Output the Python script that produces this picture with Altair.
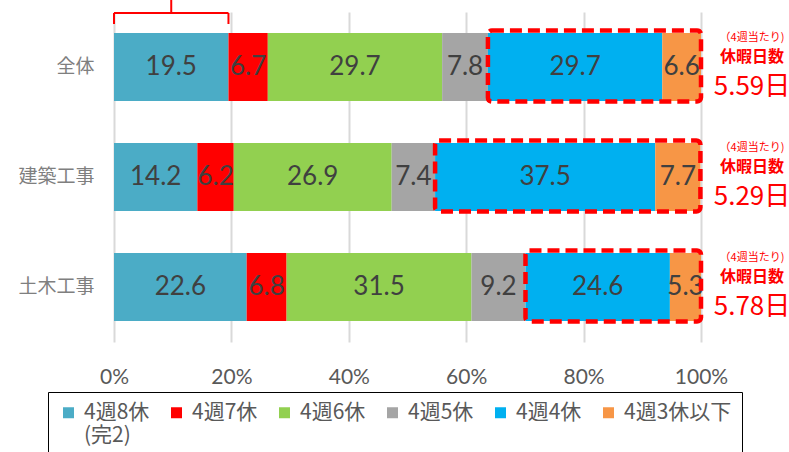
import altair as alt
import pandas as pd

# Share of workers by number of days off per 4 weeks (%)
categories = ["全体", "建築工事", "土木工事"]
series = ["4週8休", "4週7休", "4週6休", "4週5休", "4週4休", "4週3休以下"]
colors = ["#4bacc6", "#ff0000", "#92d050", "#a5a5a5", "#00b0f0", "#f79646"]
share_all = [19.5, 6.7, 29.7, 7.8, 29.7, 6.6]
share_building = [14.2, 6.2, 26.9, 7.4, 37.5, 7.7]
share_civil = [22.6, 6.8, 31.5, 9.2, 24.6, 5.3]
holidays = [5.59, 5.29, 5.78]          # days off per 4 weeks
x_ticks = [0, 20, 40, 60, 80, 100]

shares = [share_all, share_building, share_civil]

rows = []
for cat, vals in zip(categories, shares):
    for i, (s, v) in enumerate(zip(series, vals)):
        rows.append({"category": cat, "series": s, "order": i, "value": v})
df = pd.DataFrame(rows)

# highlighted range: 4週4休 and below
box_df = pd.DataFrame({
    "category": categories,
    "start": [sum(v[:4]) for v in shares],
    "end": [sum(v) for v in shares],
})
ann_df = pd.DataFrame({
    "category": categories,
    "days": [f"{h:.2f}日" for h in holidays],
})
brace_df = pd.DataFrame({"x0": [0.0], "x1": [share_all[0]], "xm": [share_all[0] / 2]})

RED = "#ff0000"
NUM_FONT = "Lato"
JP_FONT = "Noto Sans CJK JP"

x_scale = alt.Scale(domain=[0, 100], nice=False, zero=True)
y_scale = alt.Scale(domain=categories, paddingInner=0.38, paddingOuter=0.19)

y_enc = alt.Y(
    "category:N", sort=categories, scale=y_scale,
    axis=alt.Axis(title=None, domain=False, ticks=False, labelFontSize=19,
                  labelColor="#7f7f7f", labelPadding=20, labelFont=JP_FONT),
)

# every legend label gets two lines so all entries line up on the first line
legend_labels = (
    "datum.label == '4週8休' ? ['4週8休', '(完2)'] : [datum.label, '']"
)

bars = alt.Chart(df).mark_bar().encode(
    x=alt.X("value:Q", stack="zero", scale=x_scale,
            axis=alt.Axis(values=x_ticks, labelExpr="datum.value + '%'", title=None,
                          domain=False, ticks=False, grid=True, gridColor="#d9d9d9",
                          gridWidth=2, labelFontSize=21, labelColor="#595959",
                          labelPadding=24, labelFont=NUM_FONT, labelFlush=False)),
    y=y_enc,
    color=alt.Color(
        "series:N", sort=series, scale=alt.Scale(domain=series, range=colors),
        legend=alt.Legend(
            title=None, orient="none", legendX=-66, legendY=380,
            direction="horizontal", symbolType="square", symbolSize=121,
            symbolStrokeWidth=0, labelFontSize=21, labelColor="#595959",
            labelFont=JP_FONT, labelOffset=5, columnPadding=16, padding=10,
            strokeColor="#000000", labelLimit=0,
            labelExpr=legend_labels,
        ),
    ),
    order=alt.Order("order:Q"),
)

labels = alt.Chart(df).transform_stack(
    stack="value", groupby=["category"], as_=["v0", "v1"],
    sort=[alt.SortField("order")],
).transform_calculate(
    mid="(datum.v0 + datum.v1) / 2"
).mark_text(fontSize=26, color="#404040", font=NUM_FONT).encode(
    x=alt.X("mid:Q", scale=x_scale),
    y=alt.Y("category:N", sort=categories, scale=y_scale),
    text=alt.Text("value:Q", format=".1f"),
)

boxes = alt.Chart(box_df).mark_bar(
    fill="transparent", stroke=RED, strokeWidth=4.5, strokeDash=[12, 6],
    cornerRadius=4, size=71, yOffset=-1,
).encode(
    x=alt.X("start:Q", scale=x_scale),
    x2="end:Q",
    y=alt.Y("category:N", sort=categories, scale=y_scale),
)

ann_x = alt.value(638)
ann_small = alt.Chart(ann_df).mark_text(
    text="（4週当たり)", fontSize=11, color=RED, font=JP_FONT, dy=-29
).encode(x=ann_x, y=alt.Y("category:N", sort=categories, scale=y_scale))
ann_mid = alt.Chart(ann_df).mark_text(
    text="休暇日数", fontSize=16, fontWeight="bold", color=RED, font=JP_FONT, dy=-10
).encode(x=ann_x, y=alt.Y("category:N", sort=categories, scale=y_scale))
ann_big = alt.Chart(ann_df).mark_text(
    fontSize=26, color=RED, font=JP_FONT, dy=20
).encode(x=ann_x, y=alt.Y("category:N", sort=categories, scale=y_scale), text="days:N")

# brace over the 4週8休 segment of 全体
brace_style = dict(color=RED, strokeWidth=2)
brace_top = alt.Chart(brace_df).mark_rule(**brace_style).encode(
    x=alt.X("x0:Q", scale=x_scale), x2="x1:Q", y=alt.value(1))
brace_left = alt.Chart(brace_df).mark_rule(**brace_style).encode(
    x=alt.X("x0:Q", scale=x_scale), y=alt.value(1), y2=alt.value(12))
brace_right = alt.Chart(brace_df).mark_rule(**brace_style).encode(
    x=alt.X("x1:Q", scale=x_scale), y=alt.value(1), y2=alt.value(12))
brace_tip = alt.Chart(brace_df).mark_rule(**brace_style).encode(
    x=alt.X("xm:Q", scale=x_scale), y=alt.value(-12), y2=alt.value(1))

chart = alt.layer(
    bars, labels, boxes, ann_small, ann_mid, ann_big,
    brace_top, brace_left, brace_right, brace_tip,
).properties(
    width=587, height=330,
    padding={"left": 114, "top": 12, "right": 88, "bottom": 110},
    autosize=alt.AutoSizeParams(type="none"),
).configure_view(stroke=None)

chart.save("out.html", embed_options={"renderer": "svg", "actions": False})
